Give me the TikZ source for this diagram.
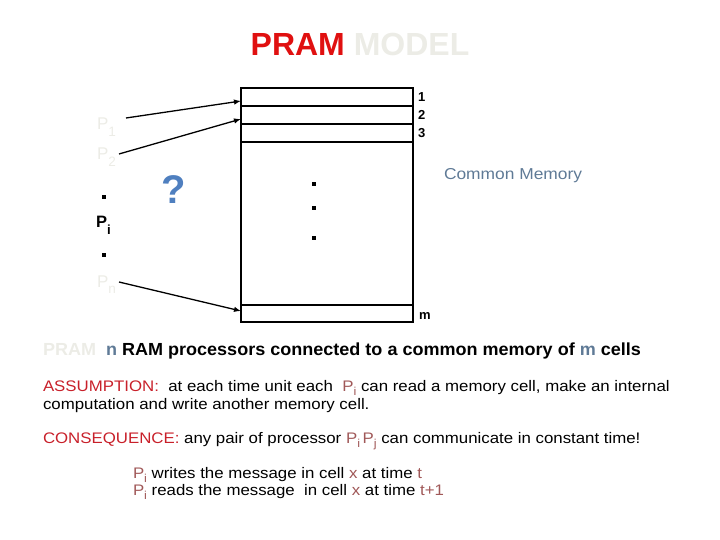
\documentclass[tikz,border=0pt]{standalone}
\usepackage{fontspec}
\setmainfont{Liberation Sans}
\newfontfamily\wide[FakeStretch=1.1]{Liberation Sans}
\usetikzlibrary{arrows.meta}
\definecolor{tred}{HTML}{E01010}
\definecolor{tgray}{HTML}{ECECE6}
\definecolor{qblue}{HTML}{4F7FBF}
\definecolor{slate}{HTML}{5F7A96}
\definecolor{hred}{HTML}{C8202A}
\definecolor{brn}{HTML}{A05858}
\newcommand{\mysub}[1]{\raisebox{-0.3em}{\scalebox{0.75}{#1}}}
\newcommand{\psub}[1]{\raisebox{-0.4em}{\scalebox{0.8}{#1}}}
\tikzset{
  x=1pt,y=-1pt,
  txt/.style={anchor=base west,inner sep=0pt,outer sep=0pt},
  plab/.style={txt,font=\fontsize{17}{17}\selectfont},
  cell/.style={line width=1.3pt},
  arr/.style={line width=1.3pt,-{Latex[length=7pt,width=5.5pt]}},
  num/.style={txt,font=\bfseries\fontsize{13}{13}\selectfont},
  body/.style={txt,font=\wide\fontsize{15.3}{15.3}\selectfont}
}
\begin{document}
\begin{tikzpicture}
\useasboundingbox (0,0) rectangle (720,540);
% title
\node[txt,anchor=base] (title) at (360,56) {\bfseries\fontsize{32}{32}\selectfont\textcolor{tred}{PRAM} \textcolor{tgray}{MODEL}};
% memory
\draw[cell] (241,88) rectangle (413,322);
\draw[cell] (241,106) -- (413,106);
\draw[cell] (241,124) -- (413,124);
\draw[cell] (241,142) -- (413,142);
\draw[cell] (241,305) -- (413,305);
\node[num] (n1) at (418,102) {1};
\node[num] (n2) at (418,120) {2};
\node[num] (n3) at (418,138) {3};
\node[num] (nm) at (419,319) {m};
\fill (312,182) rectangle (316,186);
\fill (312,206) rectangle (316,210);
\fill (312,236) rectangle (316,240);
\node[txt,font=\wide\fontsize{15.8}{15.8}\selectfont,text=slate] (cm) at (444,180) {Common Memory};
% processors
\node[plab,text=tgray] (p1) at (97,130) {P\psub{1}};
\node[plab,text=tgray] (p2) at (97,160) {P\psub{2}};
\fill (102,195) rectangle (106,199);
\node[plab,font=\bfseries\fontsize{16.5}{16.5}\selectfont] (pi) at (96,228) {P\psub{i}};
\fill (102,253) rectangle (106,257);
\node[plab,text=tgray] (pn) at (97,287) {P\psub{n}};
\node[txt,anchor=center,font=\bfseries\fontsize{40}{40}\selectfont,text=qblue] (q) at (174,190) {?};
% arrows
\coordinate (a1) at (126,118);
\coordinate (b1) at (241,101);
\coordinate (a2) at (119,154);
\coordinate (b2) at (241,119);
\coordinate (an) at (119,282);
\coordinate (bn) at (241,311);
\draw[arr] (a1) -- (b1);
\draw[arr] (a2) -- (b2);
\draw[arr] (an) -- (bn);
% text
\node[txt,font=\bfseries\fontsize{17.5}{17.5}\selectfont,xscale=1.03] (l1) at (43,355) {\textcolor{tgray}{PRAM}\ \ \textcolor{slate}{n} RAM processors connected to a common memory of \textcolor{slate}{m} cells};
\node[body] (l2) at (43,391) {\textcolor{hred}{ASSUMPTION:}\ \ at each time unit each\ \ \textcolor{brn}{P\mysub{i}} can read a memory cell, make an internal};
\node[body] (l3) at (43,409) {computation and write another memory cell.};
\node[body] (l4) at (43,443) {\textcolor{hred}{CONSEQUENCE:} any pair of processor \textcolor{brn}{P\mysub{i}\,P\mysub{j}} can communicate in constant time!};
\node[body] (l5) at (133,478) {\textcolor{brn}{P\mysub{i}} writes the message in cell \textcolor{brn}{x} at time \textcolor{brn}{t}};
\node[body] (l6) at (133,495) {\textcolor{brn}{P\mysub{i}} reads the message\ \ in cell \textcolor{brn}{x} at time \textcolor{brn}{t+1}};
\end{tikzpicture}
\end{document}
